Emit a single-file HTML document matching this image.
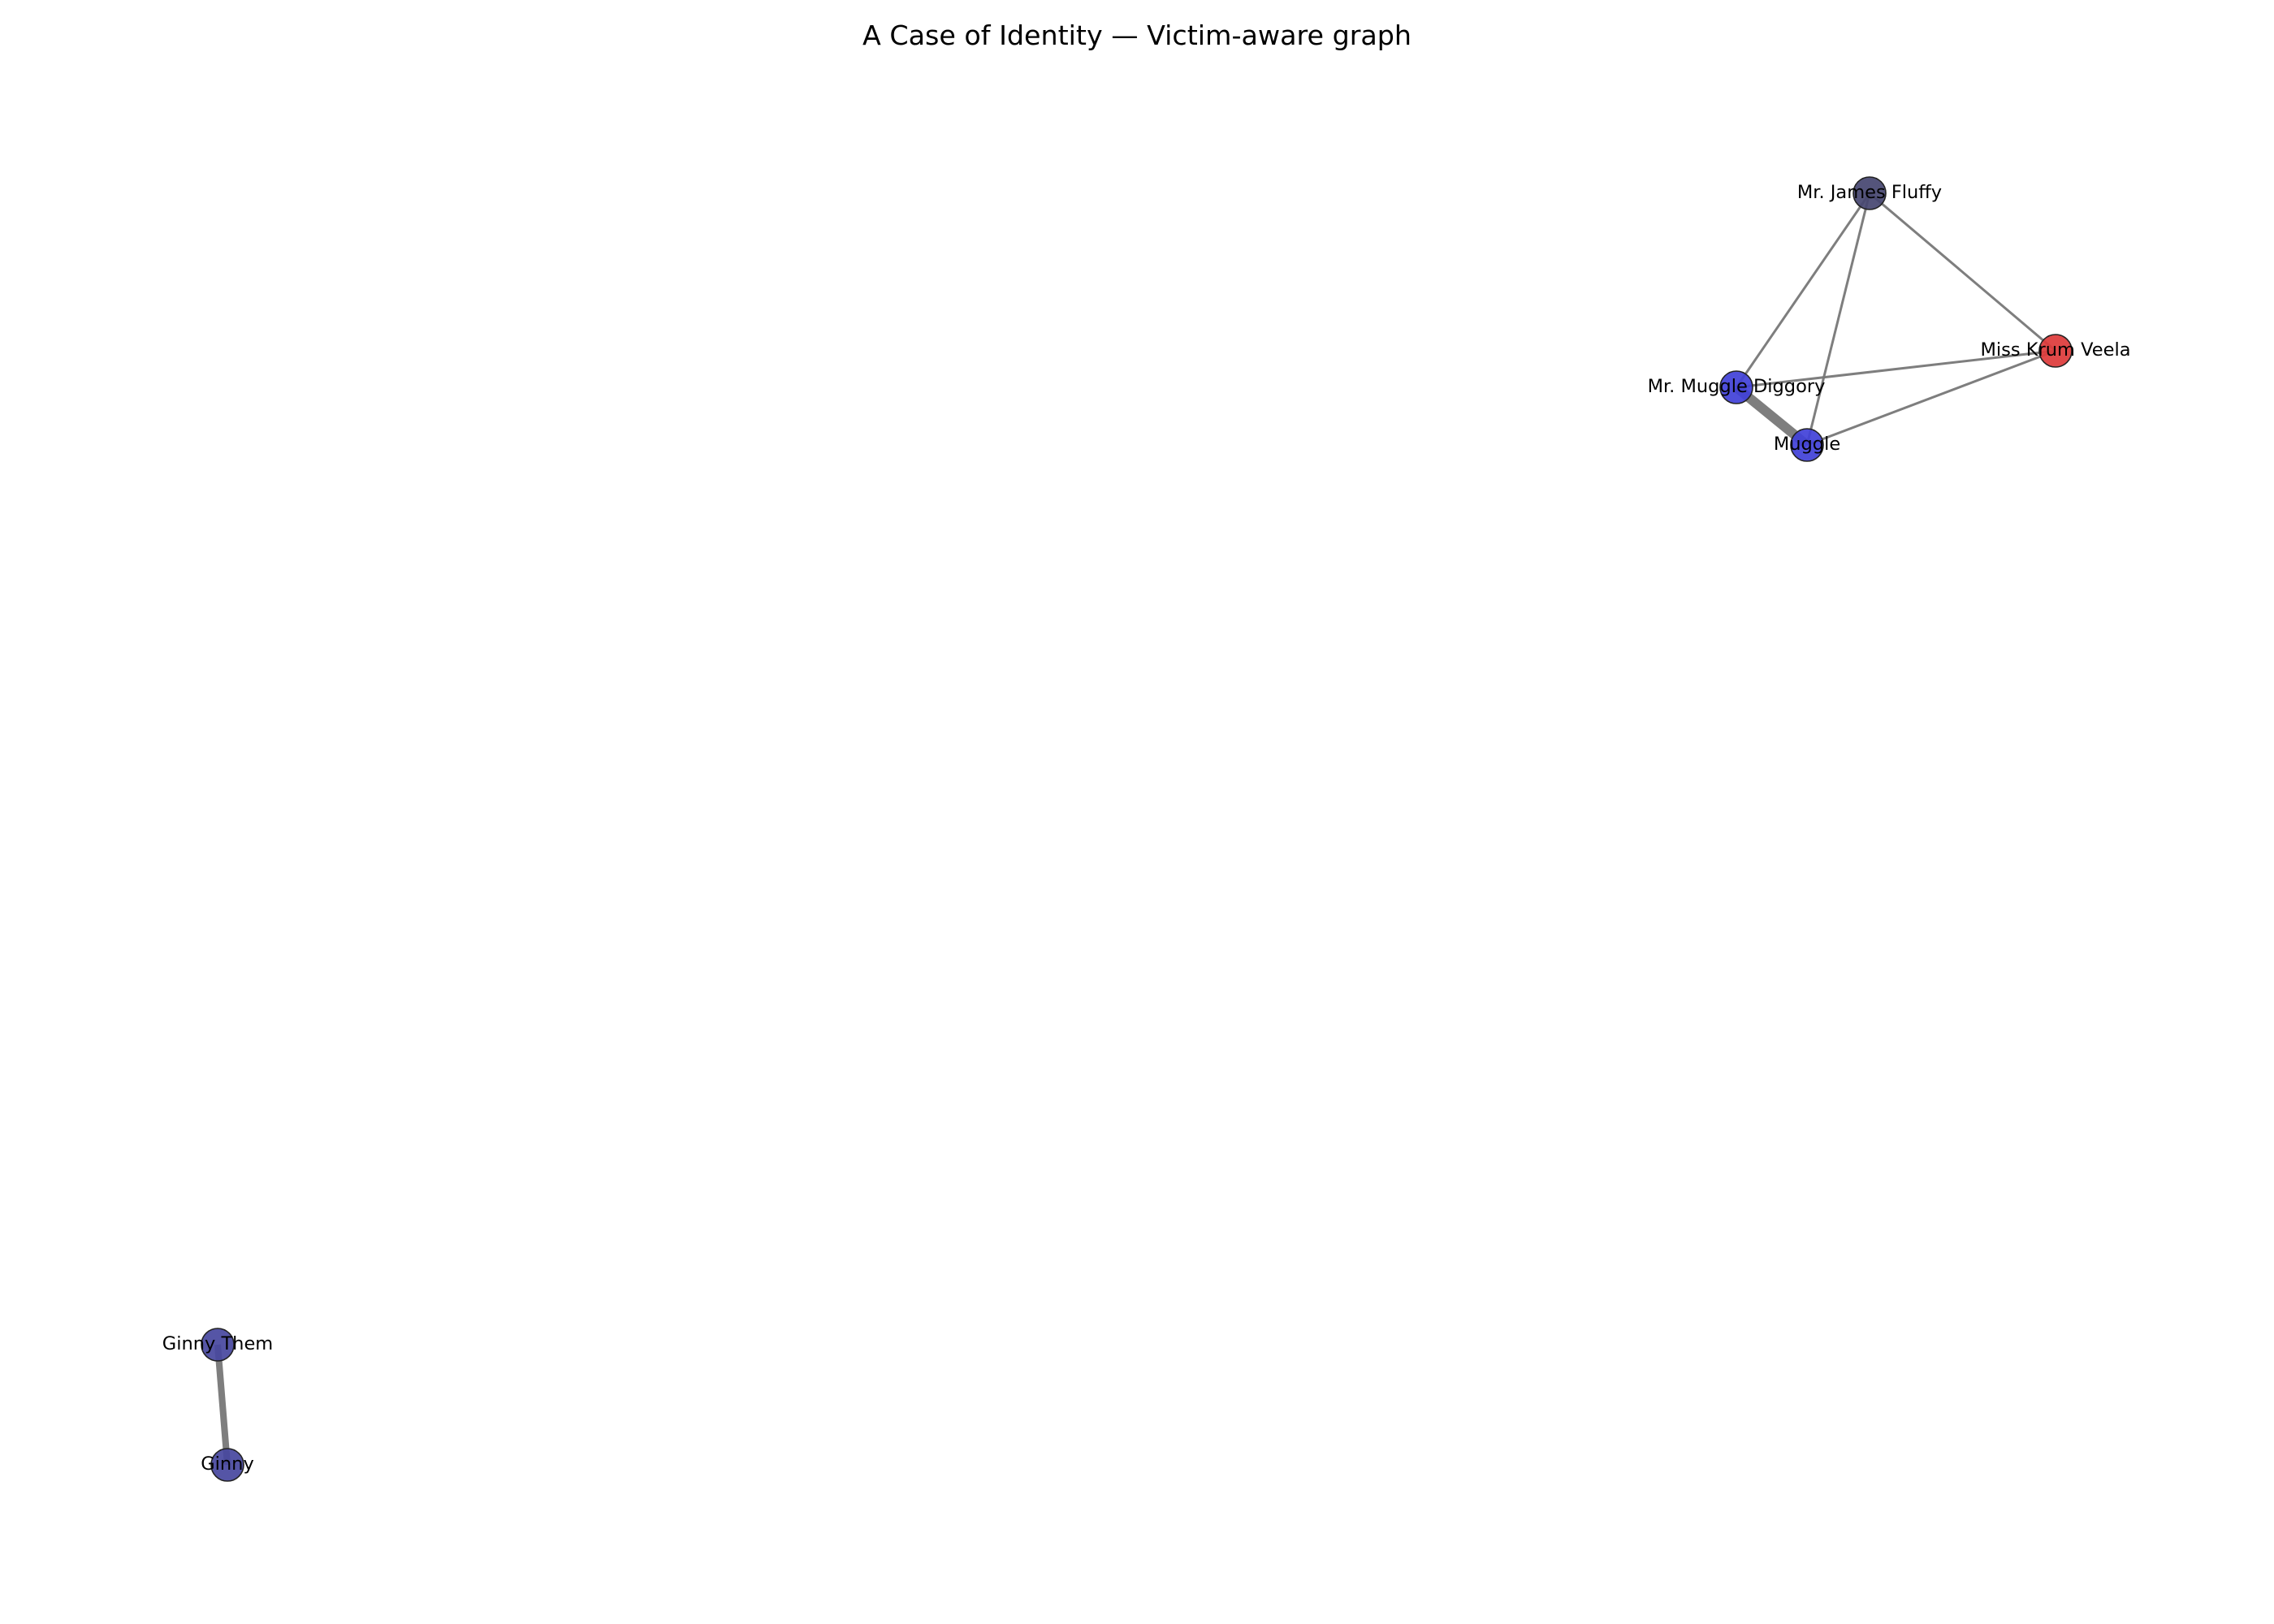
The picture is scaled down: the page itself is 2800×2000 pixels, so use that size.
<!DOCTYPE html>
<html><head><meta charset="utf-8"><style>
html,body{margin:0;padding:0;background:#fff;}
svg{display:block;}
text{font-family:"DejaVu Sans","Liberation Sans",sans-serif;}
</style></head><body>
<svg id="chart" width="2800" height="2000" viewBox="0 0 2800 2000">
<text x="1400" y="55" text-anchor="middle" font-size="33.3">A Case of Identity — Victim-aware graph</text>
<g id="edges"></g>
<g id="nodes"></g>
<g id="labels"></g>
</svg>
<script>
const nodeNames = ["Mr. James Fluffy","Miss Krum Veela","Mr. Muggle Diggory","Muggle","Ginny Them","Ginny"];
const nodeX = [2302,2531,2138,2225,268,280];
const nodeY = [238,432,477,548,1656,1804];
const nodeColors = ["#454570","#dd3a3a","#4040d8","#4040d8","#46469e","#46469e"];
const edgeFrom = [0,0,0,1,1,2,4];
const edgeTo = [1,2,3,2,3,3,5];
const edgeWeights = [1,1,1,1,1,4,2.7];
const NS="http://www.w3.org/2000/svg";
const eg=document.getElementById('edges'),ng=document.getElementById('nodes'),lg=document.getElementById('labels');
function sx(i){return nodeX[i];}
function sy(i){return nodeY[i];}
for(let k=0;k<edgeFrom.length;k++){
  const l=document.createElementNS(NS,'line');
  l.setAttribute('x1',sx(edgeFrom[k]));l.setAttribute('y1',sy(edgeFrom[k]));
  l.setAttribute('x2',sx(edgeTo[k]));l.setAttribute('y2',sy(edgeTo[k]));
  l.setAttribute('stroke','#777');l.setAttribute('stroke-width',3*edgeWeights[k]);
  l.setAttribute('stroke-opacity','0.95');
  
  
  eg.appendChild(l);
}
for(let i=0;i<nodeNames.length;i++){
  const c=document.createElementNS(NS,'circle');
  c.setAttribute('cx',sx(i));c.setAttribute('cy',sy(i));c.setAttribute('r',20);
  c.setAttribute('fill',nodeColors[i]);c.setAttribute('fill-opacity','0.92');
  c.setAttribute('stroke','#222');c.setAttribute('stroke-width','1.6');
  
  
  ng.appendChild(c);
  const t=document.createElementNS(NS,'text');
  t.setAttribute('x',sx(i));t.setAttribute('y',sy(i)+6);
  t.setAttribute('text-anchor','middle');t.setAttribute('font-size','22.5');
  t.textContent=nodeNames[i];
  
  
  lg.appendChild(t);
}
</script>
</body></html>
